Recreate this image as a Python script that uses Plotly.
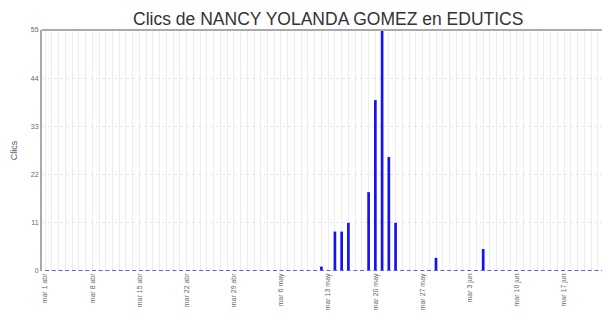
import pandas as pd
import plotly.graph_objects as go

# daily clicks, 1 apr - 25 jun (2014)
days = pd.date_range("2014-04-01", "2014-06-25", freq="D")
clics_by_day = {
    "2014-05-12": 1,
    "2014-05-14": 9,
    "2014-05-15": 9,
    "2014-05-16": 11,
    "2014-05-19": 18,
    "2014-05-20": 39,
    "2014-05-21": 55,
    "2014-05-22": 26,
    "2014-05-23": 11,
    "2014-05-29": 3,
    "2014-06-05": 5,
}
clics = [clics_by_day.get(d.strftime("%Y-%m-%d"), 0) for d in days]

tick_dates = pd.date_range("2014-04-01", "2014-06-24", freq="7D")
tick_labels = ["mar 1 abr", "mar 8 abr", "mar 15 abr", "mar 22 abr", "mar 29 abr",
               "mar 6 may", "mar 13 may", "mar 20 may", "mar 27 may", "mar 3 jun",
               "mar 10 jun", "mar 17 jun", "mar 24 jun"]
y_ticks = [0, 11, 22, 33, 44, 55]

fig = go.Figure()

# zero baseline (days without clicks)
fig.add_trace(go.Scatter(x=days, y=[0] * len(days), mode="lines",
                         line=dict(color="#6060dd", width=2, dash="4px,2.7px"),
                         hoverinfo="skip", showlegend=False))

fig.add_trace(go.Bar(x=days, y=clics, marker_color="#1414f0",
                     marker_line_width=0, width=86400000 * 0.4,
                     showlegend=False))

fig.update_layout(
    width=610, height=320,
    margin=dict(l=34, r=0, t=22, b=57),
    paper_bgcolor="white", plot_bgcolor="white",
    font=dict(family="Liberation Sans, Arial, sans-serif", color="#555"),
    title=dict(text="Clics de NANCY YOLANDA GOMEZ en EDUTICS",
               x=0.525, xanchor="center", y=0.966, yanchor="middle",
               font=dict(size=17.5, color="#333")),
)

fig.update_xaxes(
    type="date",
    range=["2014-03-31 13:00", "2014-06-25 00:00"],
    tickvals=tick_dates, ticktext=tick_labels, tickangle=-90,
    tickfont=dict(size=7, color="#666"),
    showgrid=True, gridcolor="#ececf4", gridwidth=1,
    minor=dict(dtick=86400000, showgrid=True, gridcolor="#ececf4", gridwidth=1),
    showline=False, zeroline=False, ticks="",
)

fig.update_yaxes(
    range=[0, 55], tickvals=y_ticks,
    tickfont=dict(size=7, color="#666"),
    showgrid=True, gridcolor="#e6e6ee", griddash="dot",
    showline=True, linecolor="#aaa", linewidth=2, mirror=False,
    zeroline=False, ticks="",
    title=dict(text="Clics", font=dict(size=9, color="#555"), standoff=12),
)

# top border of plot area
fig.add_shape(type="line", xref="paper", yref="paper", x0=0, x1=1, y0=1, y1=1,
              line=dict(color="#aaa", width=2))

fig.write_html("out.html")
